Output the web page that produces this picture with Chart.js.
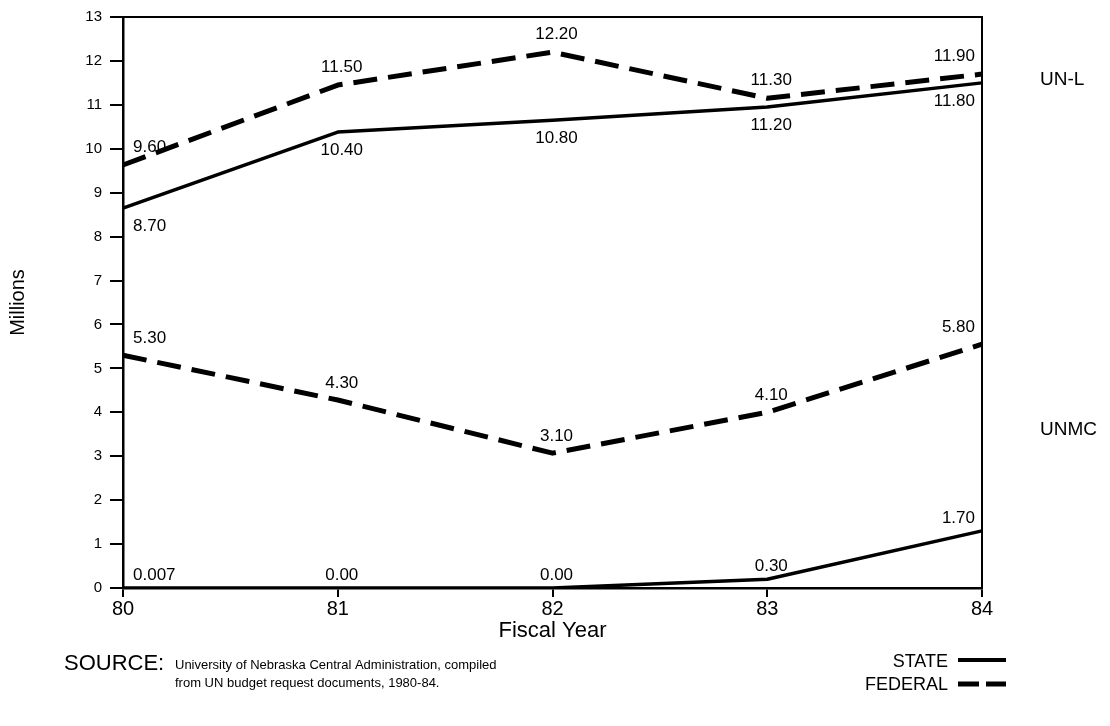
<!DOCTYPE html>
<html>
<head>
<meta charset="utf-8">
<script src="https://cdn.jsdelivr.net/npm/chart.js@4.4.1/dist/chart.umd.min.js"></script>
<style>
    html, body { margin: 0; padding: 0; background: #fff; }
    #wrap { width: 1110px; height: 726px; }
</style>
</head>
<body>
<div id="wrap"><canvas id="chart" width="1110" height="726"></canvas></div>
<script>
// fiscal years
const years = ["80", "81", "82", "83", "84"];

// plotted line positions (millions)
const unlFederal = [9.63, 11.45, 12.2, 11.15, 11.7];
const unlState = [8.65, 10.38, 10.65, 10.95, 11.5];
const unmcFederal = [5.3, 4.28, 3.07, 4.0, 5.55];
const unmcState = [0, 0, 0, 0.2, 1.3];

// value labels printed next to each point
const unlFederalText = ["9.60", "11.50", "12.20", "11.30", "11.90"];
const unlStateText = ["8.70", "10.40", "10.80", "11.20", "11.80"];
const unmcFederalText = ["5.30", "4.30", "3.10", "4.10", "5.80"];
const unmcStateText = ["0.007", "0.00", "0.00", "0.30", "1.70"];

const yTicks = [0, 1, 2, 3, 4, 5, 6, 7, 8, 9, 10, 11, 12, 13];

const FONT = "'Liberation Sans', Arial, Helvetica, sans-serif";
const DASH = [24, 11];

// draws the value labels, frame, side captions, source and key
const extras = {
    id: "extras",
    afterDatasetsDraw(chart) {
        const ctx = chart.ctx;
        const area = chart.chartArea;
        ctx.save();

        // top and right edges of the frame
        ctx.strokeStyle = "#000";
        ctx.lineWidth = 2;
        ctx.beginPath();
        ctx.moveTo(area.left, area.top);
        ctx.lineTo(area.right, area.top);
        ctx.lineTo(area.right, area.bottom);
        ctx.stroke();

        // value labels
        ctx.fillStyle = "#000";
        ctx.font = "17px " + FONT;
        ctx.textBaseline = "middle";
        chart.data.datasets.forEach((ds, di) => {
            const meta = chart.getDatasetMeta(di);
            meta.data.forEach((pt, i) => {
                const txt = ds.valueText[i];
                let x = pt.x + 4;
                ctx.textAlign = "center";
                if (i === 0) { ctx.textAlign = "left"; x = pt.x + 10; }
                if (i === meta.data.length - 1) { ctx.textAlign = "right"; x = pt.x - 7; }
                ctx.fillText(txt, x, pt.y + ds.textDy);
            });
        });

        // group captions at the right
        ctx.font = "19px " + FONT;
        ctx.textAlign = "left";
        ctx.fillText("UN-L", 1040, 80);
        ctx.fillText("UNMC", 1040, 430);

        // source note
        ctx.font = "22px " + FONT;
        ctx.textBaseline = "alphabetic";
        ctx.fillText("SOURCE:", 64, 670);
        ctx.font = "13px " + FONT;
        ctx.fillText("University of Nebraska Central Administration, compiled", 175, 669);
        ctx.fillText("from UN budget request documents, 1980-84.", 175, 687);

        // key
        ctx.font = "18px " + FONT;
        ctx.textAlign = "right";
        ctx.fillText("STATE", 948, 667);
        ctx.fillText("FEDERAL", 948, 690);
        ctx.lineWidth = 4;
        ctx.beginPath();
        ctx.moveTo(958, 660);
        ctx.lineTo(1006, 660);
        ctx.stroke();
        ctx.lineWidth = 5;
        ctx.beginPath();
        ctx.moveTo(958, 684);
        ctx.lineTo(979, 684);
        ctx.moveTo(986, 684);
        ctx.lineTo(1006, 684);
        ctx.stroke();

        ctx.restore();
    }
};

function lineSet(label, data, text, dashed, dy) {
    return {
        label: label,
        data: data,
        valueText: text,
        textDy: dy,
        borderColor: "#000",
        borderWidth: dashed ? 5 : 3.5,
        borderDash: dashed ? DASH : [],
        borderCapStyle: "butt",
        borderJoinStyle: "round",
        pointRadius: 0,
        fill: false,
        tension: 0,
    };
}

const chart = new Chart(document.getElementById("chart").getContext("2d"), {
    type: "line",
    data: {
        labels: years,
        datasets: [
            lineSet("UN-L Federal", unlFederal, unlFederalText, true, -18),
            lineSet("UN-L State", unlState, unlStateText, false, 18),
            lineSet("UNMC Federal", unmcFederal, unmcFederalText, true, -17),
            lineSet("UNMC State", unmcState, unmcStateText, false, -13),
        ],
    },
    options: {
        responsive: false,
        devicePixelRatio: 1,
        animation: false,
        layout: { padding: { left: 0, right: 128, top: 17, bottom: 78 } },
        plugins: {
            legend: { display: false },
            tooltip: { enabled: false },
        },
        scales: {
            x: {
                offset: false,
                grid: { drawOnChartArea: false, drawTicks: true, tickLength: 9, color: "#000", lineWidth: 2 },
                border: { display: true, color: "#000", width: 2.5 },
                ticks: { color: "#000", font: { family: FONT, size: 20 }, padding: 0, maxRotation: 0 },
                title: { display: true, text: "Fiscal Year", color: "#000", font: { family: FONT, size: 22 }, padding: { top: 5 } },
                afterFit(scale) { scale.height = 60; },
            },
            y: {
                min: 0,
                max: 13,
                afterBuildTicks(scale) { scale.ticks = yTicks.map(v => ({ value: v })); },
                grid: { drawOnChartArea: false, drawTicks: true, tickLength: 13, color: "#000", lineWidth: 2 },
                border: { display: true, color: "#000", width: 2.5 },
                ticks: { color: "#000", font: { family: FONT, size: 15 }, padding: 8 },
                title: { display: true, text: "Millions", color: "#000", font: { family: FONT, size: 20 }, padding: { top: 6 } },
                afterFit(scale) { scale.width = 123; },
            },
        },
    },
    plugins: [extras],
});
</script>
</body>
</html>
